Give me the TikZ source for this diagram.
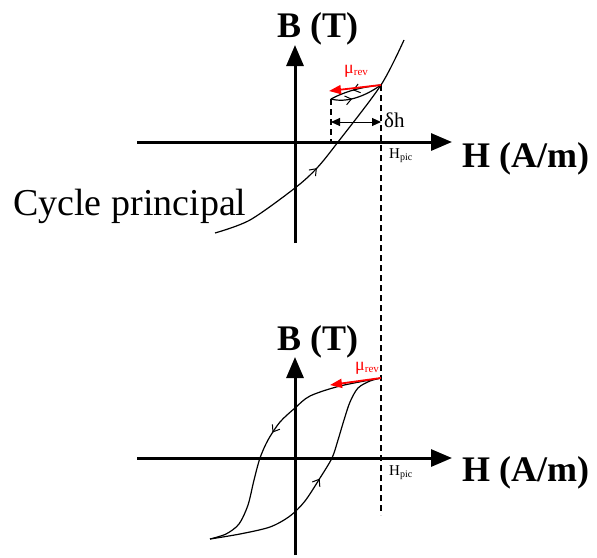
\documentclass[tikz,border=0pt]{standalone}
\usepackage{fontspec}
\setmainfont{Liberation Serif}
\usetikzlibrary{arrows.meta,decorations.markings}
\begin{document}
\begin{tikzpicture}[x=1pt,y=-1pt,
  axis/.style={line width=3pt,-{Triangle[length=21pt,width=17pt]}},
  curve/.style={line width=1.2pt},
  dashline/.style={line width=1.1pt,dash pattern=on 6pt off 4pt},
  revarrow/.style={red,line width=1.8pt,-{Triangle[length=12pt,width=9pt]}},
  bigbold/.style={font=\fontsize{36}{40}\selectfont\bfseries,inner sep=0pt,anchor=base west,
    text depth=2pt},
  biglabel/.style={font=\fontsize{38}{42}\selectfont,inner sep=0pt,anchor=base west},
  smalllabel/.style={font=\fontsize{15}{16}\selectfont,inner sep=0pt,anchor=base west},
  mulabel/.style={red,font=\fontsize{18}{18}\selectfont,inner sep=0pt,anchor=base west,
    text height=8pt,text depth=4pt},
  midarrow/.style={postaction={decorate},decoration={markings,
    mark=at position #1 with {\arrow{Straight Barb[length=6pt,width=9pt,line width=1pt]}}}}
]
\useasboundingbox (0,0) rectangle (597,557);

% ---------- top diagram ----------
\coordinate (tHl) at (137,142);
\coordinate (tHr) at (452,142);
\coordinate (tBb) at (295,243);
\coordinate (tBt) at (295,45);
\draw[axis] (tHl) -- (tHr);
\draw[axis] (tBb) -- (tBt);
\node[bigbold] (tB) at (277,37) {B (T)};
\node[bigbold] (tH) at (462,167) {H (A/m)};
\node[biglabel] (cyc) at (13,215) {Cycle principal};
\node[smalllabel] (tHpic) at (389,158) {H\raisebox{-2pt}{\fontsize{10}{10}\selectfont pic}};

\coordinate (ttip) at (381,85);
\coordinate (tleft) at (331,99);
\coordinate (tdash) at (331,142);
\coordinate (bdash) at (381,515);

\draw[curve,midarrow=0.44] plot[smooth] coordinates
  {(215,233) (250,220) (295,188) (317,168) (338,142) (381,85) (404,40)};

% minor loop
\draw[curve,midarrow=0.55] (ttip) .. controls (362,87) and (346,91) .. (tleft);
\draw[curve,midarrow=0.4] (tleft) .. controls (346,103) and (364,97) .. (ttip);
\draw[dashline] (tleft) -- (tdash);
\draw[dashline] (ttip) -- (bdash);

% delta h
\coordinate (dhl) at (331,122);
\coordinate (dhr) at (381,122);
\draw[line width=1pt,{Triangle[length=9pt,width=8pt]}-{Triangle[length=9pt,width=8pt]}] (dhl) -- (dhr);
\node[font=\fontsize{21}{22}\selectfont,inner sep=0pt,anchor=base west] (dh) at (384,127) {δh};

% mu rev top
\coordinate (tmu) at (329,91);
\draw[revarrow] (ttip) -- (tmu);
\node[mulabel] (tmulab) at (344,73) {μ\raisebox{-2pt}{\fontsize{11}{11}\selectfont rev}};

% ---------- bottom diagram ----------
\coordinate (bHl) at (137,458);
\coordinate (bHr) at (452,458);
\coordinate (bBb) at (295,555);
\coordinate (bBt) at (295,357);
\draw[axis] (bHl) -- (bHr);
\draw[axis] (bBb) -- (bBt);
\node[bigbold] (bB) at (277,350) {B (T)};
\node[bigbold] (bH) at (462,481) {H (A/m)};
\node[smalllabel] (bHpic) at (389,475) {H\raisebox{-2pt}{\fontsize{10}{10}\selectfont pic}};

\coordinate (btip) at (381,378);
\draw[curve,midarrow=0.49] plot[smooth] coordinates
  {(381,378) (340,386) (310,396) (295,408) (280,422) (268,440) (260,458) (254,480) (248,505) (239,524) (226,534) (210,539)};
\draw[curve,midarrow=0.515] plot[smooth] coordinates
  {(210,539) (240,534) (270,527) (290,516) (305,501) (320,478) (332,458) (338,440) (344,420) (350,402) (358,388) (370,381) (381,378)};

\coordinate (bmu) at (330,385);
\draw[revarrow] (btip) -- (bmu);
\node[mulabel] (bmulab) at (355,370) {μ\raisebox{-2pt}{\fontsize{11}{11}\selectfont rev}};
\end{tikzpicture}
\end{document}
